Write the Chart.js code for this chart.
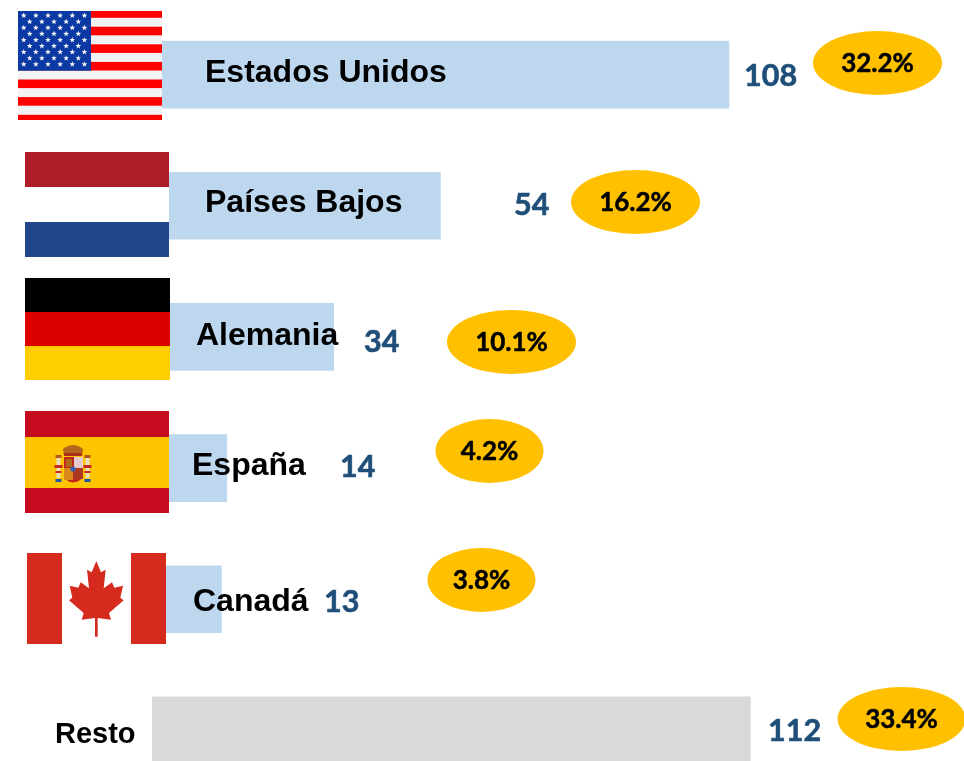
<!DOCTYPE html>
<html lang="es"><head><meta charset="utf-8">
<style>html,body{margin:0;padding:0;background:#fff;overflow:hidden;width:964px;height:761px}canvas{display:block}</style>
<script src="https://cdn.jsdelivr.net/npm/chart.js@4"></script>
</head><body><canvas id="c" width="964" height="796"></canvas>
<script>
const categories=["Estados Unidos","Países Bajos","Alemania","España","Canadá","Resto"];
const values=[108,54,34,14,13,112];
const shares=["32.2%","16.2%","10.1%","4.2%","3.8%","33.4%"];
const barColors=["#bdd7ee","#bdd7ee","#bdd7ee","#bdd7ee","#bdd7ee","#d9d9d9"];

// layout of the annotations, kept apart from the data
const nameAt=[[205,73,32],[205,203,32],[196,336,32],[192,466,32],[193,602,32],[55,735,29]];
const valueAt=[[744,76],[514,205],[364,342],[340,467],[324,602],[768,731]];
const ovalAt=[[877.5,63,64.5],[635.5,202,64.5],[511.5,342,64.5],[489.5,451,54],[481.5,580,54],[901.5,719,64]];

function rect(x,c,l,t,w,h){x.fillStyle=c;x.fillRect(l,t,w,h);}
function star(x,cx,cy,r){x.beginPath();for(let i=0;i<10;i++){const a=-Math.PI/2+i*Math.PI/5,q=i%2?r*0.42:r;x[i?'lineTo':'moveTo'](cx+q*Math.cos(a),cy+q*Math.sin(a));}x.closePath();x.fill();}
function flagUS(x){
  rect(x,"#f3f3f3",18,11,144,109);
  rect(x,"#fe0000",18,11,144,6.8);
  for(let k=0;k<5;k++)rect(x,"#fe0000",18,26.7+k*17.6,144,8.6);
  rect(x,"#fe0000",18,114.8,144,5.2);
  rect(x,"#0a39a3",18,11,73,59.7);
  x.fillStyle="#f6f6f6";
  for(let r=0;r<9;r++){const odd=r%2,n=odd?5:6;for(let i=0;i<n;i++)star(x,(odd?29.7:23.7)+i*12.15,15.6+r*6.08,3);}
}
function flagNL(x){rect(x,"#ae1c28",25,152,144,35);rect(x,"#ffffff",25,187,144,35);rect(x,"#21468b",25,222,144,35);}
function flagDE(x){rect(x,"#000000",25,278,145,34);rect(x,"#dd0000",25,312,145,34);rect(x,"#ffce00",25,346,145,34);}
function flagES(x){
  rect(x,"#c60b1e",25,411,144,102);rect(x,"#ffc400",25,437,144,51);
  // crown
  x.fillStyle="#b5651d";x.beginPath();x.moveTo(64,456);x.lineTo(63,449);x.quadraticCurveTo(73,441,83,449);x.lineTo(82,456);x.closePath();x.fill();
  rect(x,"#a8301e",64,453,18,3);
  // shield
  x.fillStyle="#c0271f";x.beginPath();x.moveTo(64,457);x.lineTo(83,457);x.lineTo(83,475);x.quadraticCurveTo(82,482,73,482.5);x.quadraticCurveTo(65,482,64,475);x.closePath();x.fill();
  rect(x,"#e6c8cf",74,457,9,11);rect(x,"#d98a1a",64,468,9,12);rect(x,"#ad3a20",74,468,9,11);rect(x,"#b0641c",66,459,6,8);
  x.fillStyle="#2f62b0";x.beginPath();x.arc(73,469,2.6,0,7);x.fill();
  // pillars
  for(const p of [58.5,87.5]){rect(x,"#e9dfb8",p-2,456,4,22);rect(x,"#b5561e",p-3,455,6,3);rect(x,"#c62a22",p-4,465,8,3);rect(x,"#c62a22",p-3,471,6,2);rect(x,"#1c5aa6",p-3,479,6,3);}
}
function flagCA(x){
  rect(x,"#ffffff",62,553,69,91);rect(x,"#d52b1e",27,553,35,91);rect(x,"#d52b1e",131,553,35,91);
  const half=[[244,48],[258,82],[272,74],[266,130],[291,112],[298,128],[324,122],[316,158],[326,166],[282,204],[288,224],[248,219],[248,275]];
  const pts=half.concat(half.slice().reverse().map(p=>[488-p[0],p[1]]));
  x.fillStyle="#d52b1e";x.beginPath();
  pts.forEach((p,i)=>x[i?'lineTo':'moveTo'](15+p[0]/3,545+p[1]/3));
  x.closePath();x.fill();
}
const overlay={id:"overlay",afterDatasetsDraw(chart){
  const x=chart.ctx;x.save();
  [flagUS,flagNL,flagDE,flagES,flagCA].forEach(f=>f(x));
  x.textBaseline="middle";x.lineJoin="round";
  categories.forEach((name,i)=>{
    const n=nameAt[i],v=valueAt[i],o=ovalAt[i];
    x.textAlign="left";x.fillStyle="#000";
    x.font=`bold ${n[2]}px "Liberation Sans"`;x.fillText(name,n[0],n[1]);
    x.fillStyle="#1f4e79";x.strokeStyle="#1f4e79";x.lineWidth=0.6;x.font='bold 30.5px Lato';x.fillText(String(values[i]),v[0],v[1]);x.strokeText(String(values[i]),v[0],v[1]);
    x.fillStyle="#ffc000";x.beginPath();x.ellipse(o[0],o[1],o[2],32,0,0,Math.PI*2);x.fill();
    x.fillStyle="#000";x.strokeStyle="#000";x.lineWidth=0.5;x.textAlign="center";x.font='bold 26px Lato';x.fillText(shares[i],o[0],o[1]+1);x.strokeText(shares[i],o[0],o[1]+1);
  });
  x.restore();
}};
new Chart(document.getElementById("c"),{
  type:"bar",
  data:{labels:categories,datasets:[{data:values,backgroundColor:barColors,borderWidth:0,barThickness:67}]},
  options:{
    indexAxis:"y",responsive:false,animation:false,
    layout:{padding:{left:152,top:9,right:0,bottom:0}},
    plugins:{legend:{display:false},tooltip:{enabled:false},title:{display:false}},
    scales:{x:{display:false,min:0,max:152},y:{display:false}}
  },
  plugins:[overlay]
});
</script></body></html>
